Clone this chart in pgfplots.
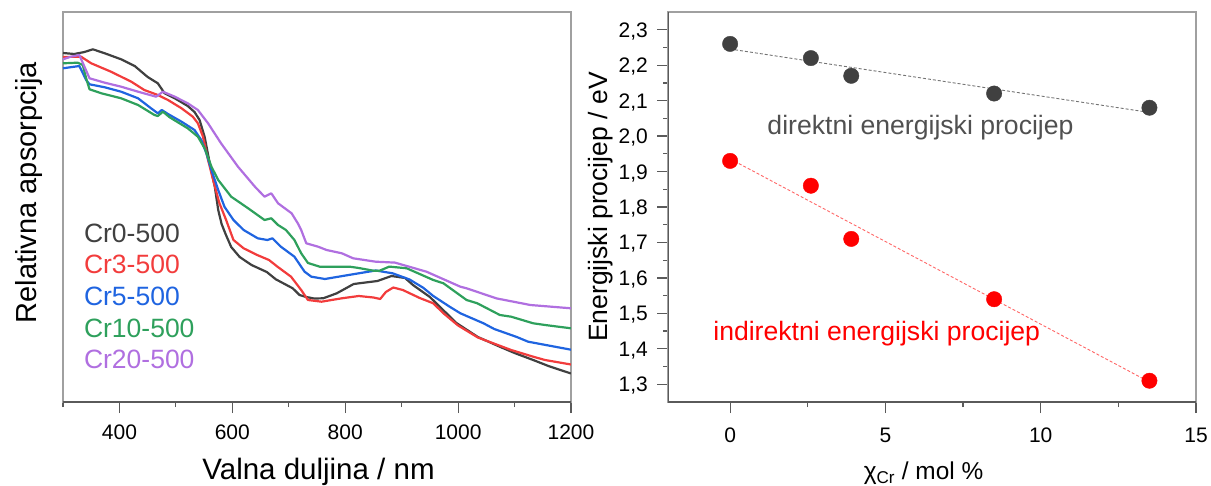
\documentclass[border=0pt]{standalone}
\usepackage{fontspec}
\setmainfont{Liberation Sans}
\usepackage{pgfplots}
\pgfplotsset{compat=1.18}
\definecolor{cblack}{RGB}{64,64,64}
\definecolor{cred}{RGB}{242,60,60}
\definecolor{cblue}{RGB}{31,100,224}
\definecolor{cgreen}{RGB}{46,160,92}
\definecolor{cpurple}{RGB}{176,111,224}
\definecolor{cdot}{RGB}{64,64,64}
\definecolor{cdotred}{RGB}{255,0,0}
\definecolor{ctext}{RGB}{80,80,80}
\definecolor{frame}{RGB}{160,160,160}
\definecolor{darkframe}{RGB}{90,90,90}
\begin{document}
\begin{tikzpicture}[x=1pt,y=1pt]
\useasboundingbox (0,0) rectangle (1211,485);
% ---------------- left panel ----------------
\begin{axis}[
  at={(63pt,83pt)}, anchor=south west,
  scale only axis, width=508pt, height=390pt,
  xmin=300, xmax=1200, ymin=0, ymax=390,
  xtick={400,600,800,1000,1200},
  minor xtick={300,500,700,900,1100},
  ytick=\empty,
  tick pos=left, tick align=outside,
  major tick length=11pt, minor tick length=5pt,
  every tick/.style={darkframe, line width=1.2pt},
  axis line style={frame, line width=1.3pt},
  /pgf/number format/assume math mode=true,
  /pgf/number format/1000 sep={},
  xticklabel style={font=\fontsize{21}{21}\selectfont, anchor=base, inner sep=0pt, yshift=-26.5pt},
  xlabel={Valna duljina / nm},
  xlabel style={font=\fontsize{29.5}{29.5}\selectfont, at={(axis description cs:0.503,-0.2)}, anchor=base},
  ylabel={Relativna apsorpcija},
  ylabel style={font=\fontsize{29}{29}\selectfont, at={(axis description cs:-0.0512,0.537)}, anchor=base, rotate=0},
  legend image code/.code={},
  legend cell align=left,
  legend style={at={(axis description cs:0.041,0.467)}, anchor=north west, draw=none, fill=none,
    inner sep=0pt, row sep=0pt, font=\fontsize{26.5}{26.5}\selectfont,
    nodes={inner xsep=0pt, inner ysep=0pt, text height=22pt, text depth=9.7pt}},
  every axis plot/.append style={line width=2.2pt, line join=round},
]
\addplot[cblack] coordinates {
(300,349) (320,348) (338,350) (353,352.7) (374,348.7) (403,342.7) (427,336) (450,325)
(468,318.7) (480,308.7) (498,303.7) (521,296) (533,290) (542,282) (551,265) (560,238.7)
(569,215) (575,192) (581,178) (588,168) (598,155) (613,145) (634,137) (661,130)
(677,122.7) (707,113.7) (719,107) (731,105) (745,103.5) (761,103.7) (785,108.7) (815,118)
(857,121) (882,126) (906,124) (920,117) (950,105) (997,79) (1035,65) (1075,55)
(1100,49) (1133,42) (1160,36) (1200,28.5)};
\addlegendentry{\textcolor{cblack}{Cr0-500}}
\addplot[cred] coordinates {
(300,345) (332,345.3) (350,338.7) (385,330.3) (421,320.3) (444,312) (468,307) (486,302)
(510,293.7) (530,285.3) (539,278.7) (548,265.3) (557,242) (566,222) (577,199) (589,182)
(602,162) (620,153.7) (644,147) (665,142) (680,135.3) (704,125.3) (722,112) (734,102)
(758,100.3) (794,103.7) (824,106) (850,104.5) (862,103) (872,110) (885,114.5) (902,112)
(932,104) (956,98.7) (974,88.7) (1000,76.5) (1035,64.5) (1094,52) (1133,45.3) (1154,42)
(1200,37.5)};
\addlegendentry{\textcolor{cred}{Cr3-500}}
\addplot[cblue] coordinates {
(300,333.7) (329,336) (341,322) (347,317.7) (374,314.7) (403,310.3) (433,303.7) (456,293.7)
(468,288.7) (475,292) (486,288) (510,280.3) (533,272) (545,262) (554,248.7) (563,232)
(575,212) (586,195.3) (602,182) (620,172) (645,163.7) (662,162) (671,163.7) (686,155.3)
(710,145.3) (728,130.3) (740,125.3) (764,123) (806,127) (854,131.5) (884,128.7) (914,122.5)
(938,114.3) (956,106) (985,95.3) (1004,88.7) (1045,78.7) (1064,73) (1104,65) (1124,60.3)
(1200,52.3)};
\addlegendentry{\textcolor{cblue}{Cr5-500}}
\addplot[cgreen] coordinates {
(300,338.7) (326,339.3) (335,337) (341,323.7) (347,312.7) (368,308.7) (403,303.7) (433,297)
(462,287) (468,286) (477,290.3) (489,284.7) (521,273.7) (539,265.3) (551,253.7) (563,235.3)
(575,222) (598,205.3) (628,193.7) (657,182) (669,183.7) (681,177) (695,172) (710,162)
(722,148.7) (734,139) (755,135.3) (808,135.3) (824,134) (850,131.3) (861,131.3) (878,135.4)
(909,133.7) (956,122) (974,118.7) (1015,102) (1034,98.7) (1074,87) (1094,85.3) (1133,78.7)
(1154,77) (1200,73.7)};
\addlegendentry{\textcolor{cgreen}{Cr10-500}}
\addplot[cpurple] coordinates {
(300,342.7) (314,345.3) (329,347) (338,335.3) (347,323.7) (374,319.3) (403,315.3) (433,310.3)
(465,305.3) (477,310.3) (498,305.3) (521,298.7) (539,292) (557,278.7) (580,258.7) (610,235.3)
(640,215.3) (657,205.3) (669,208.7) (681,198.7) (705,188.7) (716,178.7) (722,172) (731,158.7)
(752,155.3) (767,152) (794,148.7) (814,143.7) (854,140.3) (888,139.4) (944,130.3) (1004,115.3)
(1015,113.7) (1068,103.6) (1128,97) (1200,93.7)};
\addlegendentry{\textcolor{cpurple}{Cr20-500}}
\draw[darkframe, line width=1.3pt] (rel axis cs:0,0) -- (rel axis cs:1,0);
\end{axis}
% ---------------- right panel ----------------
\begin{axis}[
  at={(668pt,83pt)}, anchor=south west,
  scale only axis, width=528pt, height=390pt,
  xmin=-2, xmax=15, ymin=1.25, ymax=2.35,
  xtick={0,5,10,15}, minor x tick num=1,
  ytick={1.3,1.4,1.5,1.6,1.7,1.8,1.9,2.0,2.1,2.2,2.3}, minor y tick num=1,
  tick pos=left, tick align=outside,
  major tick length=11pt, minor tick length=5pt,
  every tick/.style={darkframe, line width=1.2pt},
  axis line style={frame, line width=1.3pt},
  /pgf/number format/assume math mode=true,
  /pgf/number format/use comma,
  xticklabel style={font=\fontsize{21}{21}\selectfont, anchor=base, inner sep=0pt, yshift=-29.5pt,
    /pgf/number format/fixed, /pgf/number format/precision=0},
  yticklabel style={font=\fontsize{21}{21}\selectfont, anchor=base east, inner sep=0pt, xshift=-9pt, yshift=-7.5pt,
    /pgf/number format/fixed, /pgf/number format/fixed zerofill, /pgf/number format/precision=1},
  xlabel={χ\textsubscript{Cr} / mol \%},
  xlabel style={font=\fontsize{24.4}{24.4}\selectfont, at={(axis description cs:0.484,-0.2)}, anchor=base},
  ylabel={Energijski procijep / eV},
  ylabel style={font=\fontsize{26.5}{26.5}\selectfont, at={(axis description cs:-0.1155,0.5)}, anchor=base, rotate=0},
]
\addplot[densely dashed, black!55, line width=0.9pt] coordinates {(0,2.2455) (13.5,2.0667)};
\addplot[densely dashed, red!60, line width=0.9pt] coordinates {(0,1.9357) (13.5,1.3064)};
\addplot[only marks, mark=*, mark size=7.7pt, mark options={draw=cdot, fill=cdot}] coordinates {
(0,2.26) (2.6,2.22) (3.9,2.17) (8.5,2.12) (13.5,2.08)};
\addplot[only marks, mark=*, mark size=7.7pt, mark options={draw=cdotred, fill=cdotred}] coordinates {
(0,1.93) (2.6,1.86) (3.9,1.71) (8.5,1.54) (13.5,1.31)};
\node[text=ctext, font=\fontsize{26.6}{26.6}\selectfont] at (axis cs:6.13,2.024) {direktni energijski procijep};
\node[text=cdotred, font=\fontsize{26.6}{26.6}\selectfont] at (axis cs:4.72,1.442) {indirektni energijski procijep};
\draw[darkframe, line width=1.3pt] (rel axis cs:0,1) -- (rel axis cs:0,0) -- (rel axis cs:1,0);
\end{axis}
\end{tikzpicture}
\end{document}
